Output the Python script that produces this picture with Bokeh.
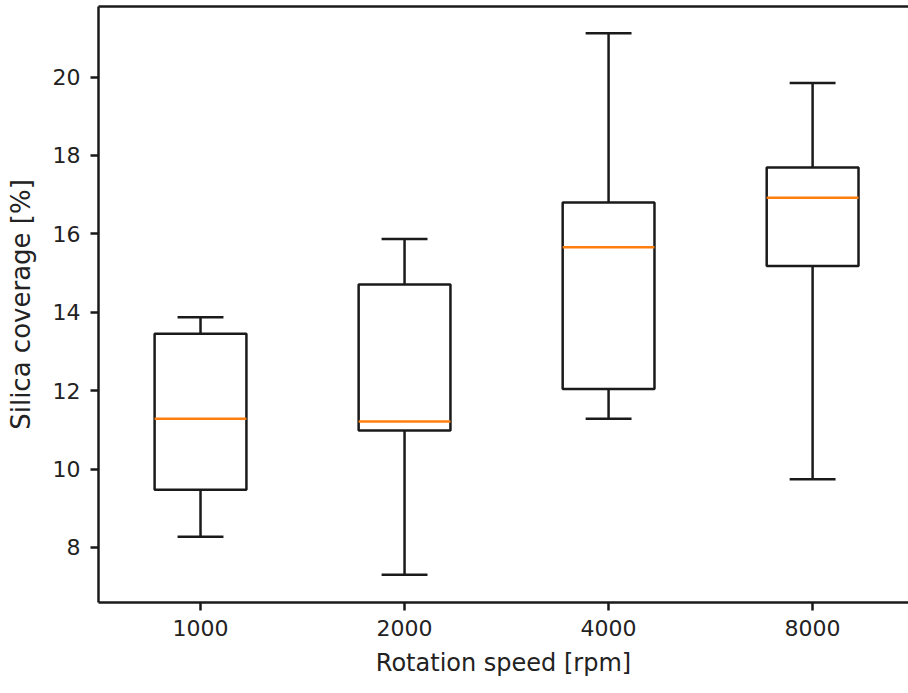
from bokeh.plotting import figure
from bokeh.models import FixedTicker, Range1d, LinearAxis
from bokeh.embed import file_html
from bokeh.resources import INLINE

# Data
categories = ["1000", "2000", "4000", "8000"]
whisker_low = [8.27, 7.30, 11.28, 9.74]
q1 = [9.47, 10.98, 12.04, 15.18]
median = [11.28, 11.21, 15.66, 16.92]
q3 = [13.45, 14.71, 16.80, 17.69]
whisker_high = [13.87, 15.87, 21.12, 19.85]
y_ticks = [8, 10, 12, 14, 16, 18, 20]

positions = [i + 1 for i in range(len(categories))]
box_w = 0.45
cap_w = box_w / 2

FONT = "DejaVu Sans"
LINE = "#1a1a1a"
LW = 2.5

p = figure(width=908, height=693, output_backend="svg", toolbar_location=None,
           x_range=Range1d(0.5, 4.47), y_range=Range1d(6.594, 21.80),
           min_border_left=98, min_border_top=6, min_border_bottom=91, min_border_right=0)
p.outline_line_color = None
p.grid.visible = False
p.background_fill_color = "white"
p.border_fill_color = "white"

left = [x - box_w / 2 for x in positions]
right = [x + box_w / 2 for x in positions]
cl = [x - cap_w / 2 for x in positions]
cr = [x + cap_w / 2 for x in positions]

# whiskers
p.segment(x0=positions, y0=whisker_low, x1=positions, y1=q1, line_color=LINE, line_width=LW)
p.segment(x0=positions, y0=q3, x1=positions, y1=whisker_high, line_color=LINE, line_width=LW)
# caps
p.segment(x0=cl, y0=whisker_low, x1=cr, y1=whisker_low, line_color=LINE, line_width=LW)
p.segment(x0=cl, y0=whisker_high, x1=cr, y1=whisker_high, line_color=LINE, line_width=LW)
# boxes
p.quad(left=left, right=right, bottom=q1, top=q3, fill_color=None, line_color=LINE, line_width=LW)
# medians
p.segment(x0=left, y0=median, x1=right, y1=median, line_color="#ff7f0e", line_width=LW)

# axes styling
xa = p.xaxis[0]
xa.ticker = FixedTicker(ticks=positions)
xa.major_label_overrides = {pos: c for pos, c in zip(positions, categories)}
xa.axis_label = "Rotation speed [rpm]"
ya = p.yaxis[0]
ya.ticker = FixedTicker(ticks=y_ticks)
ya.axis_label = "Silica coverage [%]"

for ax in (xa, ya):
    ax.minor_tick_line_color = None
    ax.major_tick_out = 8
    ax.major_tick_in = 0
    ax.major_tick_line_color = LINE
    ax.major_tick_line_width = LW
    ax.axis_line_color = LINE
    ax.axis_line_width = LW
    ax.major_label_text_font = FONT
    ax.major_label_text_font_size = "22px"
    ax.major_label_text_color = "#222222"
    ax.axis_label_text_font = FONT
    ax.axis_label_text_font_style = "normal"
    ax.axis_label_text_color = "#222222"

xa.major_label_standoff = 9
xa.axis_label_text_font_size = "24px"
xa.axis_label_standoff = 10
ya.major_label_standoff = 10
ya.axis_label_text_font_size = "26px"
ya.axis_label_standoff = 14

# top spine
top = LinearAxis(ticker=FixedTicker(ticks=[]), axis_line_color=LINE, axis_line_width=LW,
                 major_tick_line_color=None, minor_tick_line_color=None,
                 major_label_text_font_size="0px")
p.add_layout(top, "above")

open("out.html", "w").write(file_html(p, INLINE))
